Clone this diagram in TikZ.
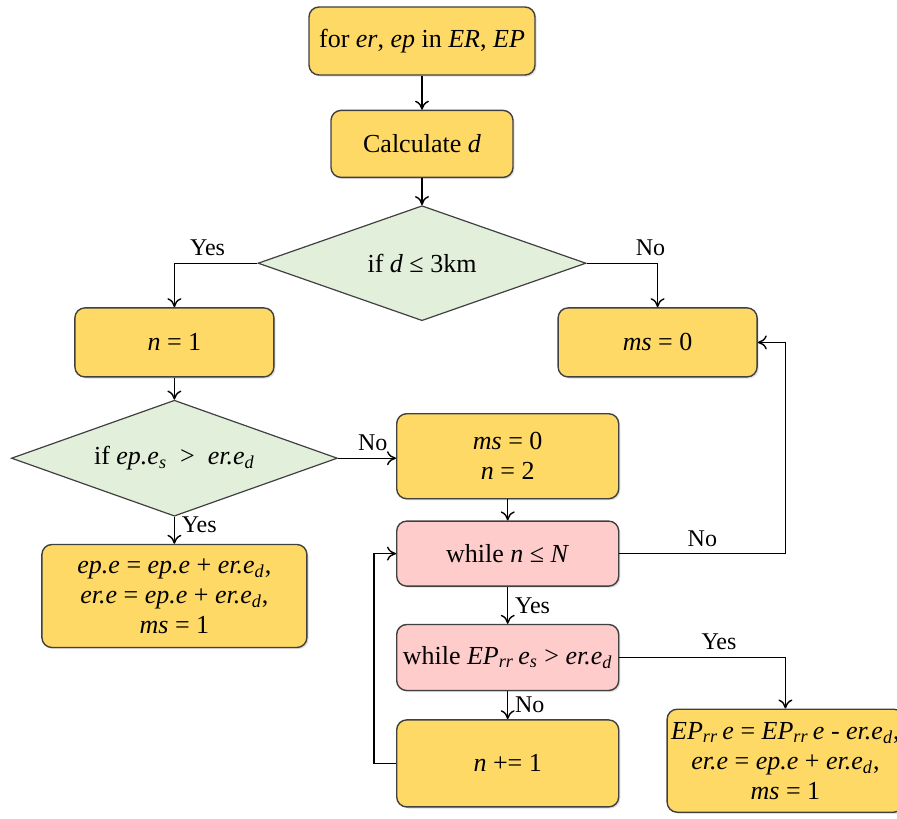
\documentclass[tikz,border=0pt]{standalone}
\usepackage{fontspec}
\setmainfont{Liberation Serif}
\usepackage{tikz}
\usetikzlibrary{shapes,arrows.meta,positioning,shadows}

\definecolor{boxyellow}{HTML}{FFD966}
\definecolor{diagreen}{HTML}{E2EFDA}
\definecolor{looppink}{HTML}{FFCCCC}
\definecolor{edgegray}{HTML}{404040}

\begin{document}
\begin{tikzpicture}[
    node distance=16pt,
    box/.style={rectangle, draw=edgegray, line width=0.7pt, rounded corners=5pt, fill=boxyellow, align=center, inner sep=2pt,
        font=\fontsize{13}{15}\selectfont, drop shadow={shadow xshift=0.8pt, shadow yshift=-0.8pt, opacity=0.25}},
    loopbox/.style={box, fill=looppink, minimum width=111pt},
    decision/.style={diamond, aspect=2.8, draw=edgegray, line width=0.6pt, fill=diagreen, align=center, inner sep=0pt,
        font=\fontsize{13}{15}\selectfont},
    arrow/.style={-{To[length=4.5pt,width=7pt]}, line width=0.7pt, black},
    label/.style={font=\fontsize{12}{14}\selectfont}
]
\useasboundingbox (-211pt,20.5pt) rectangle (237.5pt,-388.5pt);

% Main flow
\node[box, minimum width=113pt, minimum height=34pt] (loop) {for \textit{er}, \textit{ep} in \textit{ER}, \textit{EP}};
\node[box, minimum width=91pt, minimum height=33.5pt, below=17pt of loop] (calc) {Calculate \textit{d}};
\node[decision, minimum width=164pt, minimum height=57.5pt, below=13.5pt of calc] (dist) {if \textit{d} ≤ 3km};

% Left branch
\node[box, minimum width=99.5pt, minimum height=34.5pt, below=22pt of dist.west, xshift=-41.5pt] (ninit) {\textit{n} = 1};
\node[decision, minimum width=163pt, minimum height=58pt, below=11pt of ninit] (cap) {if \textit{ep.e}\textsubscript{\textit{s}} ~>~ \textit{er.e}\textsubscript{\textit{d}}};
\node[box, minimum width=132.5pt, minimum height=51.5pt, below=13.5pt of cap] (direct) {\textit{ep.e} = \textit{ep.e} + \textit{er.e}\textsubscript{\textit{d}},\\ \textit{er.e} = \textit{ep.e} + \textit{er.e}\textsubscript{\textit{d}},\\ \textit{ms} = 1};

% Right branch
\node[box, minimum width=99.5pt, minimum height=34.5pt, below=22pt of dist.east, xshift=35.5pt] (fail) {\textit{ms} = 0};
\node[box, minimum width=111pt, minimum height=42.5pt, right=29pt of cap, yshift=1pt] (ninit2) {\textit{ms} = 0\\ \textit{n} = 2};
\node[loopbox, minimum height=32.5pt, below=10.5pt of ninit2] (whilen) {while \textit{n} ≤ \textit{N}};
\node[loopbox, minimum height=33pt, below=18.5pt of whilen] (whileep) {while \textit{EP}\textsubscript{\textit{rr}}\,\textit{e}\textsubscript{\textit{s}} > \textit{er.e}\textsubscript{\textit{d}}};
\node[box, minimum width=111pt, minimum height=43.5pt, below=14pt of whileep] (incr) {\textit{n} += 1};
\node[box, minimum width=111pt, minimum height=51.5pt, below=25.5pt of whileep.east, xshift=83pt] (share) {\textit{EP}\textsubscript{\textit{rr}}\,\textit{e} = \textit{EP}\textsubscript{\textit{rr}}\,\textit{e} - \textit{er.e}\textsubscript{\textit{d}},\\ \textit{er.e} = \textit{ep.e} + \textit{er.e}\textsubscript{\textit{d}},\\ \textit{ms} = 1};

% Arrows
\draw[arrow] (loop) -- (calc);
\draw[arrow] (calc) -- (dist);
\draw[arrow] (dist.west) -| node[label, above, pos=0.3] {Yes} (ninit.north);
\draw[arrow] (dist.east) -| node[label, above, pos=0.45] {No} (fail.north);
\draw[arrow] (ninit) -- (cap);
\draw[arrow] (cap.south) -- node[label, right, pos=0.3] {Yes} (direct.north);
\draw[arrow] (cap.east) -- node[label, above, pos=0.6] {No} (cap.east -| ninit2.west);
\draw[arrow] (ninit2) -- (whilen);
\draw[arrow] (whilen.south) -- node[label, right] {Yes} (whileep.north);
\draw[arrow] (whileep.south) -- node[label, right] {No} (incr.north);
\draw[arrow] (whileep.east) -| node[label, above, pos=0.3] {Yes} (share.north);

% Loop back
\draw[arrow] (incr.west) -- ++(-11pt,0) |- (whilen.west);
\coordinate (up) at (whilen.east -| share.north);
\draw[arrow] (whilen.east) -- node[label, above] {No} (up) |- (fail.east);

\end{tikzpicture}
\end{document}
